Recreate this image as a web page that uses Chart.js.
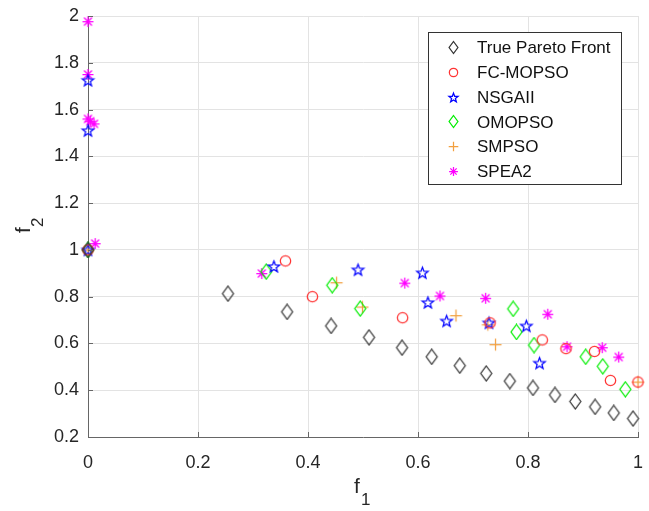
<!DOCTYPE html>
<html>
<head>
<meta charset="utf-8">
<script src="https://cdn.jsdelivr.net/npm/chart.js@4/dist/chart.umd.min.js"></script>
<style>
  html, body { margin: 0; padding: 0; background: #fff; }
  #wrap { width: 649px; height: 511px; }
</style>
</head>
<body>
<div id="wrap"><canvas id="c" width="649" height="511"></canvas></div>
<script>
// data
const seriesNames = ['True Pareto Front', 'FC-MOPSO', 'NSGAII', 'OMOPSO', 'SMPSO', 'SPEA2'];

const trueX = [0, 0.2545, 0.362, 0.442, 0.511, 0.571, 0.625, 0.676, 0.724, 0.767, 0.809, 0.849, 0.886, 0.922, 0.956, 0.991];
const trueY = [1, 0.813, 0.735, 0.675, 0.626, 0.582, 0.543, 0.505, 0.472, 0.439, 0.41, 0.38, 0.352, 0.329, 0.303, 0.279];

const fcX = [0, 0.359, 0.408, 0.572, 0.731, 0.826, 0.869, 0.921, 0.95, 1.0];
const fcY = [1, 0.953, 0.80, 0.71, 0.688, 0.615, 0.578, 0.566, 0.442, 0.435];

const nsX = [0, 0, 0, 0.338, 0.491, 0.608, 0.618, 0.652, 0.729, 0.797, 0.821];
const nsY = [1.725, 1.51, 1, 0.929, 0.915, 0.902, 0.775, 0.696, 0.688, 0.675, 0.516];

const omX = [0, 0.324, 0.444, 0.495, 0.773, 0.779, 0.811, 0.905, 0.936, 0.977];
const omY = [1, 0.907, 0.849, 0.749, 0.748, 0.649, 0.593, 0.543, 0.502, 0.404];

const smX = [0, 0.452, 0.499, 0.669, 0.727, 0.741, 1.0];
const smY = [1, 0.86, 0.756, 0.719, 0.68, 0.595, 0.435];

const spX = [0, 0, 0, 0.004, 0.011, 0.013, 0.316, 0.576, 0.64, 0.723, 0.836, 0.871, 0.935, 0.965];
const spY = [1.976, 1.75, 1.56, 1.55, 1.539, 1.027, 0.899, 0.858, 0.803, 0.793, 0.725, 0.586, 0.582, 0.542];

const xTicks = [0, 0.2, 0.4, 0.6, 0.8, 1];
const yTicks = [0.2, 0.4, 0.6, 0.8, 1, 1.2, 1.4, 1.6, 1.8, 2];

const FONT = '"Liberation Sans", Arial, Helvetica, sans-serif';
const TEXT = '#262626';
const AXIS = '#666666';

// marker images, MATLAB style
function marker(kind, color, s) {
  const c = document.createElement('canvas');
  const w = 17, h = 17;
  c.width = w; c.height = h;
  const g = c.getContext('2d');
  g.strokeStyle = color;
  g.translate(w / 2, h / 2);
  g.scale(s, s);
  g.lineWidth = 1.25 / s;
  g.beginPath();
  if (kind === 'diamond') {
    g.moveTo(0, -7.5); g.lineTo(5.5, 0); g.lineTo(0, 7.5); g.lineTo(-5.5, 0); g.closePath();
  } else if (kind === 'circle') {
    g.arc(0, 0, 5.2, 0, Math.PI * 2);
  } else if (kind === 'pentagram') {
    for (let i = 0; i < 10; i++) {
      const r = i % 2 === 0 ? 6 : 2.5;
      const a = -Math.PI / 2 + i * Math.PI / 5;
      const px = r * Math.cos(a), py = 0.5 + r * Math.sin(a);
      if (i === 0) g.moveTo(px, py); else g.lineTo(px, py);
    }
    g.closePath();
  } else if (kind === 'plus') {
    g.moveTo(-6, 0); g.lineTo(6, 0);
    g.moveTo(0, -6); g.lineTo(0, 6);
  } else if (kind === 'asterisk') {
    const r = 5.5, d = r * 0.72;
    g.moveTo(-r, 0); g.lineTo(r, 0);
    g.moveTo(0, -r); g.lineTo(0, r);
    g.moveTo(-d, -d); g.lineTo(d, d);
    g.moveTo(-d, d); g.lineTo(d, -d);
  }
  g.stroke();
  return c;
}

const kinds = ['diamond', 'circle', 'pentagram', 'diamond', 'plus', 'asterisk'];
const colors = ['#333333', '#ff3333', '#0000ff', '#00ee00', '#f2a040', '#ff00ff'];
const markers = kinds.map((k, i) => marker(k, colors[i], 1));
const legendMarkers = kinds.map((k, i) => marker(k, colors[i], 0.8));

const xs = [trueX, fcX, nsX, omX, smX, spX];
const ys = [trueY, fcY, nsY, omY, smY, spY];

const datasets = seriesNames.map((name, i) => ({
  label: name,
  data: xs[i].map((x, j) => ({ x: x, y: ys[i][j] })),
  pointStyle: markers[i],
  pointRadius: 6,
  pointHoverRadius: 6,
  showLine: false,
  clip: false
}));

function fmt(v) { return String(Math.round(v * 10) / 10); }

// inward tick marks, axis titles with subscripts, boxed legend
const matlabBits = {
  id: 'matlabBits',
  afterDraw(chart) {
    const ctx = chart.ctx;
    const a = chart.chartArea;
    const sx = chart.scales.x, sy = chart.scales.y;
    ctx.save();
    ctx.strokeStyle = AXIS;
    ctx.lineWidth = 1;
    ctx.beginPath();
    xTicks.forEach(t => {
      const px = Math.round(sx.getPixelForValue(t)) + 0.5;
      ctx.moveTo(px, a.bottom); ctx.lineTo(px, a.bottom - 5);
    });
    yTicks.forEach(t => {
      const py = Math.round(sy.getPixelForValue(t)) + 0.5;
      ctx.moveTo(a.left, py); ctx.lineTo(a.left + 5, py);
    });
    ctx.stroke();

    // axis titles
    ctx.fillStyle = TEXT;
    ctx.textBaseline = 'alphabetic';
    ctx.textAlign = 'left';
    ctx.font = '21px ' + FONT;
    ctx.fillText('f', 354, 493);
    ctx.font = '17px ' + FONT;
    ctx.fillText('1', 361, 505);

    ctx.save();
    ctx.translate(30, 233);
    ctx.rotate(-Math.PI / 2);
    ctx.font = '21px ' + FONT;
    ctx.fillText('f', 0, 0);
    ctx.font = '17px ' + FONT;
    ctx.fillText('2', 6, 13);
    ctx.restore();

    // legend
    const L = 428.5, T = 32.5, W = 193, H = 152;
    ctx.fillStyle = '#fff';
    ctx.fillRect(L, T, W, H);
    ctx.strokeStyle = '#333';
    ctx.strokeRect(L, T, W, H);
    ctx.font = '17px ' + FONT;
    ctx.textBaseline = 'middle';
    ctx.fillStyle = '#111';
    seriesNames.forEach((name, i) => {
      const y = 47.5 + i * 24.8;
      const m = legendMarkers[i];
      ctx.drawImage(m, Math.round(453 - m.width / 2), Math.round(y - m.height / 2));
      ctx.fillText(name, 477, y + 1);
    });
    ctx.restore();
  }
};

new Chart(document.getElementById('c'), {
  type: 'scatter',
  data: { datasets: datasets },
  options: {
    responsive: false,
    animation: false,
    layout: { padding: { left: 0, right: 11, top: 16, bottom: 0 } },
    plugins: {
      legend: { display: false },
      tooltip: { enabled: false }
    },
    scales: {
      x: {
        type: 'linear',
        min: 0, max: 1,
        afterFit(s) { s.height = 74; s.paddingLeft = 0; s.paddingRight = 0; },
        afterBuildTicks(s) { s.ticks = xTicks.map(v => ({ value: v })); },
        grid: { color: '#e3e3e3', drawTicks: false },
        border: { color: AXIS, width: 1 },
        ticks: {
          padding: 15,
          color: TEXT,
          font: { family: FONT, size: 18 },
          maxRotation: 0,
          callback: v => fmt(v)
        }
      },
      y: {
        type: 'linear',
        min: 0.2, max: 2,
        afterFit(s) { s.width = 88; s.paddingTop = 0; s.paddingBottom = 0; },
        afterBuildTicks(s) { s.ticks = yTicks.map(v => ({ value: v })); },
        grid: { color: '#e3e3e3', drawTicks: false },
        border: { color: AXIS, width: 1 },
        ticks: {
          padding: 9,
          color: TEXT,
          font: { family: FONT, size: 18 },
          callback: v => fmt(v)
        }
      }
    }
  },
  plugins: [matlabBits]
});
</script>
</body>
</html>
